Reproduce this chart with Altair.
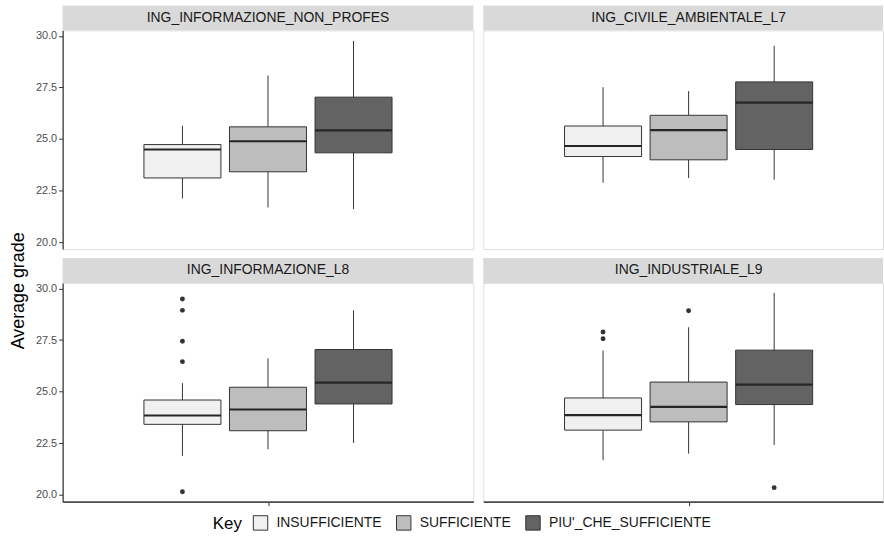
import altair as alt
import pandas as pd

programs = ["ING_INFORMAZIONE_NON_PROFES", "ING_CIVILE_AMBIENTALE_L7",
            "ING_INFORMAZIONE_L8", "ING_INDUSTRIALE_L9"]
keys = ["INSUFFICIENTE", "SUFFICIENTE", "PIU'_CHE_SUFFICIENTE"]
key_colors = ["#f0f0f0", "#bdbdbd", "#636363"]

# box statistics, program by program, key order as in `keys`
lower = [22.12, 21.68, 21.60,
         22.88, 23.11, 23.03,
         21.88, 22.20, 22.51,
         21.67, 21.99, 22.41]
q1 = [23.11, 23.41, 24.33,
      24.15, 23.99, 24.49,
      23.41, 23.10, 24.40,
      23.13, 23.53, 24.37]
median = [24.49, 24.89, 25.42,
          24.66, 25.43, 26.76,
          23.84, 24.13, 25.43,
          23.86, 24.26, 25.34]
q3 = [24.73, 25.59, 27.03,
      25.63, 26.15, 27.77,
      24.59, 25.21, 27.04,
      24.69, 25.46, 27.01]
upper = [25.64, 28.08, 29.76,
         27.51, 27.32, 29.52,
         25.41, 26.61, 28.94,
         26.99, 28.12, 29.79]

out_program = ["ING_INFORMAZIONE_L8"] * 5 + ["ING_INDUSTRIALE_L9"] * 4
out_key = ["INSUFFICIENTE"] * 5 + ["INSUFFICIENTE", "INSUFFICIENTE",
                                   "SUFFICIENTE", "PIU'_CHE_SUFFICIENTE"]
out_value = [29.49, 28.94, 27.44, 26.45, 20.14,
             27.89, 27.56, 28.92, 20.34]

y_ticks = [20.0, 22.5, 25.0, 27.5, 30.0]
y_domain = [19.66, 30.27]
y_title = ["Average grade"]

key_index = {k: i - 1 for i, k in enumerate(keys)}

box_df = pd.DataFrame({
    "program": [p for p in programs for _ in keys],
    "key": keys * len(programs),
    "lower": lower, "q1": q1, "median": median, "q3": q3, "upper": upper,
})
box_df["pos"] = box_df["key"].map(key_index)

out_df = pd.DataFrame({"program": out_program, "key": out_key, "value": out_value})
out_df["pos"] = out_df["key"].map(key_index)

FONT = "Liberation Sans"
DARK = "#333333"
PANEL_H = 220
STRIP_H = 25
UNIT = 413 / 4.8

color_enc = alt.Color(
    "key:N",
    scale=alt.Scale(domain=keys, range=key_colors),
    legend=alt.Legend(
        title="Key", orient="none", direction="horizontal",
        legendX=214, legendY=487,
        titleOrient="left", titleFontSize=17, titleFontWeight="normal",
        titleColor="#000000", titlePadding=10, titleFont=FONT,
        labelFontSize=14, labelColor="#1a1a1a", labelFont=FONT,
        labelLimit=400,
        symbolType="square", symbolSize=210, symbolStrokeColor=DARK,
        symbolStrokeWidth=1, symbolOpacity=1, labelOffset=8,
        columnPadding=12,
    ),
)


def panel(prog, width, show_y, show_x):
    x_domain = [-2.4, -2.4 + width / UNIT]
    xscale = alt.Scale(domain=x_domain, nice=False, zero=False)
    yscale = alt.Scale(domain=y_domain, nice=False, zero=False)
    if show_x:
        xaxis = alt.Axis(values=[0], labels=False, title=None, grid=False,
                         tickSize=4, tickColor=DARK, domainColor="#4d4d4d",
                         domainWidth=1.6)
    else:
        xaxis = None
    if show_y:
        yaxis = alt.Axis(values=y_ticks, format=".1f", title=None, grid=False,
                         tickSize=4, tickColor=DARK, domainColor=DARK,
                         domainWidth=1.2, labelPadding=2, labelFontSize=11,
                         labelColor="#4d4d4d", labelFont=FONT,
                         minExtent=34, maxExtent=34)
    else:
        yaxis = None

    base = alt.Chart(box_df).transform_filter(
        alt.datum.program == prog
    ).transform_calculate(x0="datum.pos - 0.45", x1="datum.pos + 0.45")

    whisker = base.mark_rule(color=DARK, strokeWidth=1).encode(
        x=alt.X("pos:Q", scale=xscale, axis=xaxis),
        y=alt.Y("lower:Q", scale=yscale, axis=yaxis),
        y2="upper:Q",
    )
    box = base.mark_rect(stroke=DARK, strokeWidth=1, opacity=1).encode(
        x=alt.X("x0:Q", scale=xscale, axis=xaxis),
        x2="x1:Q",
        y=alt.Y("q1:Q", scale=yscale, axis=yaxis),
        y2="q3:Q",
        color=color_enc,
    )
    med = base.mark_rule(color="#262626", strokeWidth=2.2).encode(
        x=alt.X("x0:Q", scale=xscale, axis=xaxis),
        x2="x1:Q",
        y=alt.Y("median:Q", scale=yscale, axis=yaxis),
    )
    pts = alt.Chart(out_df).transform_filter(
        alt.datum.program == prog
    ).mark_circle(size=24, color=DARK, opacity=1).encode(
        x=alt.X("pos:Q", scale=xscale, axis=xaxis),
        y=alt.Y("value:Q", scale=yscale, axis=yaxis),
    )

    strip_df = pd.DataFrame({"program": [prog]})
    strip_bg = alt.Chart(strip_df).mark_rect(fill="#d9d9d9").encode(
        x=alt.value(0), x2=alt.value(width),
        y=alt.value(-STRIP_H), y2=alt.value(0),
    )
    strip_txt = alt.Chart(strip_df).mark_text(
        fontSize=14, color="#1a1a1a", font=FONT, baseline="middle", align="center"
    ).encode(
        text="program:N", x=alt.value(206.5), y=alt.value(-STRIP_H / 2),
    )
    return alt.layer(strip_bg, strip_txt, whisker, box, med, pts).properties(
        width=width, height=PANEL_H
    )


top = alt.hconcat(
    panel(programs[0], 413, True, False),
    panel(programs[1], 402, False, False),
    spacing=8,
)
bottom = alt.hconcat(
    panel(programs[2], 413, True, True),
    panel(programs[3], 402, False, True),
    spacing=8,
)
grid = alt.vconcat(top, bottom, spacing=7)

title_chart = alt.Chart(pd.DataFrame({"label": y_title})).mark_text(
    fontSize=18, font=FONT, color="#000000", angle=270,
    align="center", baseline="middle",
).encode(
    text="label:N", x=alt.value(19), y=alt.value(262),
).properties(width=27, height=496, view=alt.ViewBackground(stroke=None))

chart = alt.hconcat(title_chart, grid, spacing=0).properties(
    padding={"left": 0, "top": 3, "right": 0, "bottom": 0},
    background="white",
).configure_view(
    stroke="#cccccc", strokeWidth=1.2
).configure(font=FONT)

chart.save("out.html", embed_options={"renderer": "svg", "actions": False})
